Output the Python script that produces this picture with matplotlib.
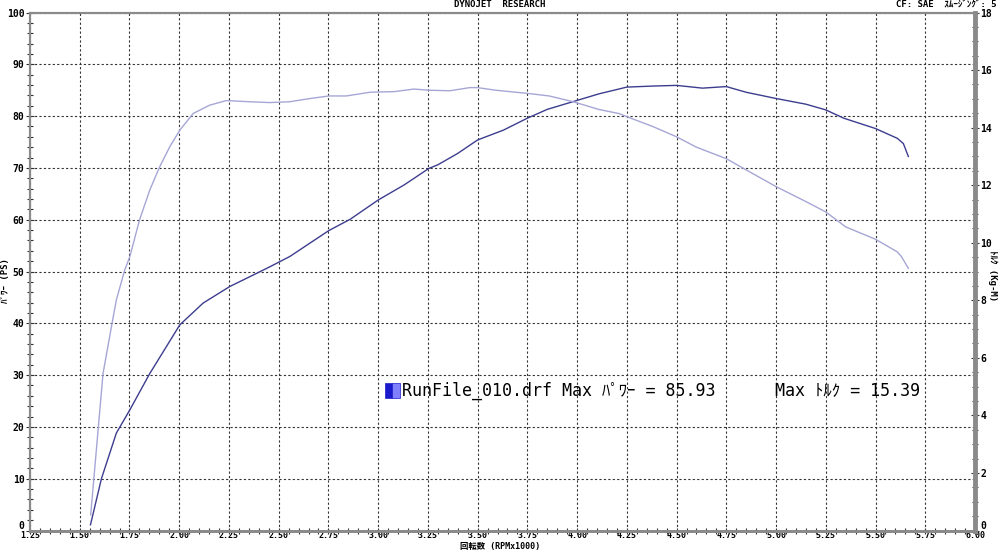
import matplotlib
matplotlib.use('Agg')
import matplotlib.pyplot as plt
from matplotlib.ticker import MultipleLocator, FormatStrFormatter
from matplotlib.patches import Rectangle

# フォント設定（半角カナ用に CJK を後ろに置く）
FONT = ['DejaVu Sans Mono', 'Noto Sans CJK JP']
plt.rcParams['font.family'] = FONT

# パワー (PS)
power_rpm = [1.554, 1.609, 1.684, 1.752, 1.852, 2.003, 2.12, 2.254, 2.355, 2.455,
             2.556, 2.752, 2.86, 3.00, 3.13, 3.255, 3.30, 3.40, 3.50, 3.63,
             3.75, 3.85, 3.98, 4.11, 4.25, 4.38, 4.50, 4.63, 4.75, 4.85,
             5.00, 5.15, 5.25, 5.34, 5.50, 5.61, 5.64, 5.665]
power_ps = [1.1, 10.0, 18.8, 23.3, 30.3, 39.7, 43.9, 47.1, 49.0, 50.9,
            52.9, 57.9, 60.1, 63.8, 66.7, 69.9, 70.6, 72.8, 75.4, 77.3,
            79.6, 81.3, 82.8, 84.3, 85.6, 85.8, 85.93, 85.4, 85.7, 84.6,
            83.4, 82.3, 81.2, 79.6, 77.6, 75.7, 74.7, 72.2]

# トルク (Kg-M)
torque_rpm = [1.555, 1.617, 1.659, 1.684, 1.726, 1.752, 1.80, 1.852, 1.902, 1.953,
              2.003, 2.07, 2.153, 2.237, 2.35, 2.455, 2.556, 2.657, 2.752, 2.84,
              2.96, 3.08, 3.18, 3.255, 3.36, 3.46, 3.50, 3.59, 3.75, 3.86,
              3.98, 4.11, 4.21, 4.25, 4.38, 4.50, 4.60, 4.75, 4.85, 5.00,
              5.15, 5.25, 5.35, 5.50, 5.61, 5.63, 5.665]
torque_kgm = [0.54, 5.45, 7.07, 8.01, 9.05, 9.52, 10.78, 11.83, 12.64, 13.34,
              13.91, 14.49, 14.78, 14.94, 14.90, 14.87, 14.90, 15.01, 15.10, 15.10,
              15.23, 15.25, 15.34, 15.30, 15.28, 15.39, 15.39, 15.30, 15.19, 15.10,
              14.90, 14.63, 14.49, 14.38, 14.04, 13.68, 13.32, 12.92, 12.53, 11.95,
              11.43, 11.07, 10.55, 10.12, 9.68, 9.52, 9.11]

run_name = 'RunFile_010.drf'
max_power = 85.93
max_torque = 15.39

POWER_COLOR = '#3d3d8f'
TORQUE_COLOR = '#a6a6d6'
SPINE = '#8a8a8a'

fig = plt.figure(figsize=(10, 5.51), dpi=100)
ax = fig.add_axes([0.030, 0.0372, 0.945, 0.9401])
ax2 = ax.twinx()

ax.set_xlim(1.25, 6.0)
ax.set_ylim(0, 100)
ax2.set_ylim(0, 18)

ax.plot(power_rpm, power_ps, color=POWER_COLOR, lw=1.0, zorder=3)
ax2.plot(torque_rpm, torque_kgm, color=TORQUE_COLOR, lw=1.0, zorder=3)

# 目盛り
ax.xaxis.set_major_locator(MultipleLocator(0.25))
ax.xaxis.set_minor_locator(MultipleLocator(0.05))
ax.xaxis.set_major_formatter(FormatStrFormatter('%.2f'))
ax.yaxis.set_major_locator(MultipleLocator(10))
ax.yaxis.set_minor_locator(MultipleLocator(2))
ax2.yaxis.set_major_locator(MultipleLocator(2))
ax2.yaxis.set_minor_locator(MultipleLocator(0.5))

for a in (ax, ax2):
    a.tick_params(which='major', direction='inout', length=6, width=0.8,
                  color='#333333', labelsize=7, pad=1)
    a.tick_params(which='minor', direction='inout', length=5, width=0.8,
                  color='#333333')
    for lab in a.get_xticklabels() + a.get_yticklabels():
        lab.set_fontweight('bold')
ax.tick_params(axis='x', which='major', length=4, labelsize=6, pad=-1.5)
ax.tick_params(axis='x', which='minor', length=4)

ax.grid(True, which='major', linestyle=(0, (2, 2)), color='#333333', lw=0.8)
ax.set_axisbelow(True)

for a in (ax, ax2):
    for s in a.spines.values():
        s.set_color(SPINE)
        s.set_linewidth(1.5)
ax2.spines['right'].set_linewidth(3.5)
ax.spines['bottom'].set_linewidth(2.0)
ax2.spines['bottom'].set_linewidth(2.0)

# ラベル類
fig.text(0.5, 0.0, '回転数 (RPMx1000)', ha='center', va='bottom',
         fontsize=6, fontweight='bold', family=FONT)
fig.text(0.001, 0.49, 'ﾊﾟﾜｰ (PS)', rotation=90, ha='left', va='center',
         fontsize=6.5, fontweight='bold', family=FONT)
fig.text(0.997, 0.50, 'ﾄﾙｸ (Kg-M)', rotation=-90, ha='right', va='center',
         fontsize=6.5, fontweight='bold', family=FONT)
fig.text(0.5, 1.0, 'DYNOJET  RESEARCH', ha='center', va='top',
         fontsize=6.5, fontweight='bold', family=FONT)
fig.text(0.997, 1.0, 'CF: SAE  ｽﾑｰｼﾞﾝｸﾞ: 5', ha='right', va='top',
         fontsize=6.5, fontweight='bold', family=FONT)

# 凡例
fig.patches.append(Rectangle((0.385, 0.278), 0.007, 0.027, transform=fig.transFigure,
                             facecolor='#1a1acc', edgecolor='#1a1acc', lw=0.5))
fig.patches.append(Rectangle((0.392, 0.278), 0.008, 0.027, transform=fig.transFigure,
                             facecolor='#8080ff', edgecolor='#1a1acc', lw=0.5))
fig.text(0.402, 0.291, f'{run_name} Max ﾊﾟﾜｰ = {max_power:.2f}', ha='left', va='center',
         fontsize=12, family=FONT)
fig.text(0.775, 0.291, f'Max ﾄﾙｸ = {max_torque:.2f}', ha='left', va='center',
         fontsize=12, family=FONT)

# 角の「0」が x 目盛りと重ならないよう少し上げる
fig.canvas.draw()
for a in (ax, ax2):
    for lab in a.get_yticklabels():
        if lab.get_text() == '0':
            lab.set_va('bottom')

fig.savefig('out.png', dpi=100, facecolor='white')
